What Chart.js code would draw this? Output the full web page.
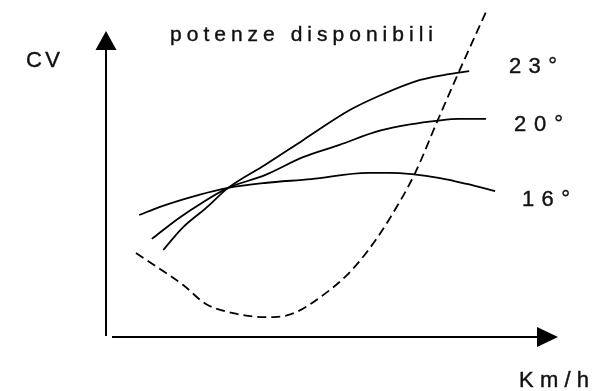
<!DOCTYPE html>
<html>
<head>
<meta charset="utf-8">
<script src="https://cdn.jsdelivr.net/npm/chart.js@4"></script>
<style>
  html, body { margin: 0; padding: 0; background: #fff; }
  #wrap { width: 609px; height: 391px; position: relative; }
</style>
</head>
<body>
<div id="wrap"><canvas id="chart"></canvas></div>
<script>
// curve data, x = speed (Km/h, arbitrary units), y = power (CV, arbitrary units)
const x16 = [7.3, 11.9, 20.3, 26.9, 35.0, 45.2, 57.7, 62.3, 67.4, 73.6, 79.5, 85.7];
const y16 = [37.3, 39.8, 43.4, 45.6, 47.1, 48.3, 50.2, 50.2, 49.8, 48.6, 46.8, 44.6];

const x20 = [10.1, 16.1, 21.1, 26.9, 35.0, 43.4, 51.3, 60.1, 67.4, 72.7, 77.8, 83.7];
const y20 = [30.0, 36.4, 41.0, 45.6, 49.5, 55.0, 58.7, 63.0, 65.1, 66.1, 66.7, 66.7];

const x23 = [12.6, 17.0, 22.0, 26.9, 35.0, 43.4, 53.7, 60.6, 69.2, 74.4, 80.0];
const y23 = [26.6, 33.6, 39.4, 45.6, 52.6, 60.2, 69.4, 74.0, 78.6, 80.1, 81.3];

// power required (dashed)
const xReq = [6.6, 11.9, 17.0, 22.0, 28.0, 35.0, 37.0, 41.9, 47.8, 52.9, 57.3, 62.3, 68.1, 73.1, 77.8, 81.7, 83.7];
const yReq = [25.7, 20.8, 15.9, 10.1, 7.3, 6.1, 6.1, 7.6, 12.8, 18.7, 25.7, 35.8, 50.2, 66.4, 81.3, 93.3, 99.4];

const curveLabels = ['16°', '20°', '23°'];
const titleText = 'potenze disponibili';
const yAxisText = 'CV';
const xAxisText = 'Km/h';

function pts(xs, ys) {
    return xs.map((x, i) => ({ x: x, y: ys[i] }));
}

// draw text spread out to a given width (letter-spaced like the original)
function spaced(ctx, text, x, base, width) {
    ctx.letterSpacing = '0px';
    const w = ctx.measureText(text).width;
    const n = [...text].length;
    const sp = n > 1 ? Math.max(0, (width - w) / (n - 1)) : 0;
    ctx.letterSpacing = sp + 'px';
    ctx.fillText(text, x, base);
    ctx.strokeText(text, x, base);
    ctx.letterSpacing = '0px';
}

const sketchPlugin = {
    id: 'sketch',
    afterDraw(chart) {
        const ctx = chart.ctx;
        const xs = chart.scales.x, ys = chart.scales.y;
        const ox = xs.getPixelForValue(0);
        const oy = ys.getPixelForValue(0);
        ctx.save();
        ctx.strokeStyle = '#000';
        ctx.fillStyle = '#000';
        ctx.lineWidth = 2;

        // vertical axis with arrow
        const yTip = 31;
        ctx.beginPath();
        ctx.moveTo(ox, oy - 1);
        ctx.lineTo(ox, yTip + 10);
        ctx.stroke();
        ctx.beginPath();
        ctx.moveTo(ox, yTip);
        ctx.lineTo(ox - 10.5, yTip + 19);
        ctx.lineTo(ox + 10.5, yTip + 19);
        ctx.closePath();
        ctx.fill();

        // horizontal axis with arrow
        const xTip = 558;
        ctx.beginPath();
        ctx.moveTo(ox + 6, oy);
        ctx.lineTo(xTip - 10, oy);
        ctx.stroke();
        ctx.beginPath();
        ctx.moveTo(xTip, oy);
        ctx.lineTo(xTip - 21, oy - 10);
        ctx.lineTo(xTip - 21, oy + 10);
        ctx.closePath();
        ctx.fill();

        // texts (thin stroke to get the heavier look of the scan)
        ctx.textAlign = 'left';
        ctx.textBaseline = 'alphabetic';
        ctx.fillStyle = '#111';
        ctx.strokeStyle = '#111';
        ctx.lineWidth = 0.4;
        ctx.font = '21px "Liberation Sans", Arial, sans-serif';
        spaced(ctx, titleText, 170, 41, 263);
        ctx.font = '22px "Liberation Sans", Arial, sans-serif';
        spaced(ctx, yAxisText, 26, 67, 34);
        spaced(ctx, xAxisText, 519, 387, 70);
        spaced(ctx, curveLabels[2], 509, 73, 48);
        spaced(ctx, curveLabels[1], 514, 131, 49);
        spaced(ctx, curveLabels[0], 522, 206, 48);
        ctx.restore();
    }
};

const lineStyle = {
    borderColor: '#000',
    borderWidth: 1.8,
    pointRadius: 0,
    cubicInterpolationMode: 'monotone',
    fill: false
};

new Chart(document.getElementById('chart'), {
    type: 'line',
    data: {
        datasets: [
            Object.assign({ label: curveLabels[0], data: pts(x16, y16) }, lineStyle),
            Object.assign({ label: curveLabels[1], data: pts(x20, y20) }, lineStyle),
            Object.assign({ label: curveLabels[2], data: pts(x23, y23) }, lineStyle),
            Object.assign({ label: 'richiesta', data: pts(xReq, yReq), borderDash: [9, 5] }, lineStyle)
        ]
    },
    options: {
        responsive: true,
        maintainAspectRatio: false,
        animation: false,
        layout: { padding: { left: 106, right: 49, top: 10, bottom: 54 } },
        plugins: {
            legend: { display: false },
            tooltip: { enabled: false },
            title: { display: false }
        },
        scales: {
            x: { type: 'linear', min: 0, max: 100, display: false },
            y: { type: 'linear', min: 0, max: 100, display: false }
        }
    },
    plugins: [sketchPlugin]
});
</script>
</body>
</html>
